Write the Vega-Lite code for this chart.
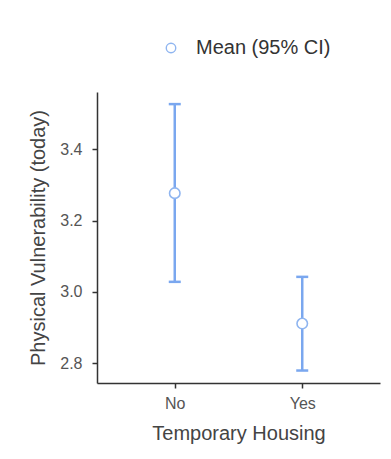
{
  "$schema": "https://vega.github.io/schema/vega-lite/v6.json",
  "width": 283,
  "height": 291,
  "autosize": {"type": "none"},
  "padding": {"left": 97, "top": 92, "right": 11, "bottom": 76},
  "background": "white",
  "data": {
    "values": [
      {"housing": "No", "mean": 3.277, "lower": 3.028, "upper": 3.527, "series": "Mean (95% CI)"},
      {"housing": "Yes", "mean": 2.911, "lower": 2.779, "upper": 3.042, "series": "Mean (95% CI)"}
    ]
  },
  "encoding": {
    "x": {
      "field": "housing",
      "type": "nominal",
      "scale": {"type": "point", "padding": 0.61},
      "axis": {"title": "Temporary Housing", "labelAngle": 0}
    }
  },
  "layer": [
    {
      "mark": {"type": "rule", "color": "#7aa7ef", "strokeWidth": 2.5},
      "encoding": {
        "y": {
          "field": "lower",
          "type": "quantitative",
          "scale": {"domain": [2.744, 3.561], "nice": false, "zero": false},
          "axis": {"title": "Physical Vulnerability (today)", "values": [2.8, 3.0, 3.2, 3.4], "format": ".1f"}
        },
        "y2": {"field": "upper"}
      }
    },
    {
      "mark": {"type": "tick", "orient": "horizontal", "color": "#7aa7ef", "size": 12, "thickness": 2.5, "opacity": 1},
      "encoding": {"y": {"field": "lower", "type": "quantitative"}}
    },
    {
      "mark": {"type": "tick", "orient": "horizontal", "color": "#7aa7ef", "size": 12, "thickness": 2.5, "opacity": 1},
      "encoding": {"y": {"field": "upper", "type": "quantitative"}}
    },
    {
      "mark": {"type": "point", "shape": "circle", "size": 110, "fill": "white", "filled": false, "strokeWidth": 1.6, "opacity": 1},
      "encoding": {
        "y": {"field": "mean", "type": "quantitative"},
        "stroke": {
          "field": "series",
          "type": "nominal",
          "scale": {"range": ["#8fb5f0"]},
          "legend": {
            "title": null,
            "orient": "none",
            "legendX": 64,
            "legendY": -54,
            "symbolType": "circle",
            "symbolSize": 90,
            "symbolStrokeWidth": 1.4,
            "symbolFillColor": "white",
            "labelFontSize": 20,
            "labelColor": "#333333",
            "labelOffset": 15,
            "labelFont": "Liberation Sans"
          }
        }
      }
    }
  ],
  "config": {
    "view": {"stroke": null},
    "font": "Liberation Sans",
    "axis": {
      "grid": false,
      "domainColor": "#333333",
      "domainWidth": 1.5,
      "tickColor": "#333333",
      "tickWidth": 1.5,
      "tickSize": 5,
      "labelFont": "Liberation Sans",
      "labelFontSize": 16,
      "labelColor": "#555555",
      "titleFont": "Liberation Sans",
      "titleFontSize": 20,
      "titleFontWeight": "normal",
      "titleColor": "#444444"
    },
    "axisY": {"labelPadding": 10, "titlePadding": 11},
    "axisX": {"labelPadding": 7, "titlePadding": 12}
  }
}
